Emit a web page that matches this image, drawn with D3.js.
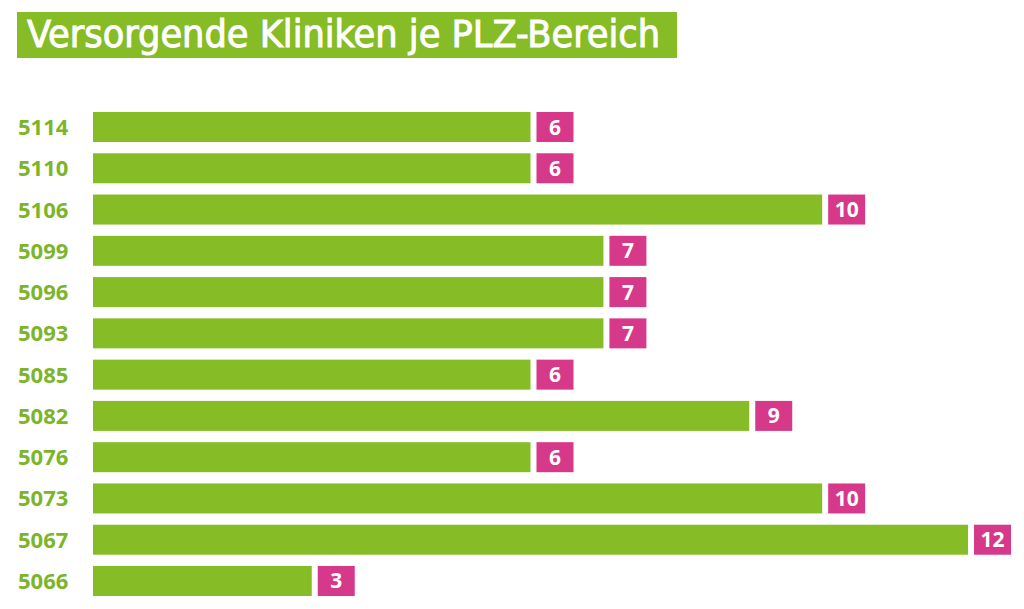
<!DOCTYPE html>
<html><head><meta charset="utf-8">
<script src="https://cdn.jsdelivr.net/npm/d3@7/dist/d3.min.js"></script>
<style>html,body{margin:0;padding:0;background:#fff;}svg{display:block;}</style>
</head><body>
<script>
const title = "Versorgende Kliniken je PLZ-Bereich";
const categories = ["5114","5110","5106","5099","5096","5093","5085","5082","5076","5073","5067","5066"];
const values = [6,6,10,7,7,7,6,9,6,10,12,3];

const W = 1024, H = 609;
const green = "#86BC25", magenta = "#D6398A", labelGreen = "#7DB52A";
const svg = d3.select("body").append("svg").attr("width", W).attr("height", H);

// title
svg.append("rect").attr("x",17).attr("y",12).attr("width",660).attr("height",46).attr("fill",green);
svg.append("text").attr("x",27).attr("y",47)
  .attr("font-family","'DejaVu Sans Condensed','Liberation Sans Narrow',sans-serif")
  .attr("font-size",37).attr("fill","#fff")
  .attr("stroke","#fff").attr("stroke-width",0.9)
  .attr("textLength",633).attr("lengthAdjust","spacingAndGlyphs")
  .text(title);

const x = d3.scaleLinear().domain([0,12]).range([93,968]);
const y = d3.scaleBand().domain(categories).range([112,596]).paddingInner(0.273).paddingOuter(0);

const data = categories.map((c,i)=>({c, v: values[i]}));

const g = svg.append("g");
g.selectAll("rect.bar").data(data).join("rect").attr("class","bar")
  .attr("x", x(0)).attr("y", d=>y(d.c))
  .attr("width", d=>x(d.v)-x(0)).attr("height", y.bandwidth())
  .attr("fill", green);

g.selectAll("rect.box").data(data).join("rect").attr("class","box")
  .attr("x", d=>x(d.v)+6).attr("y", d=>y(d.c))
  .attr("width", 37).attr("height", y.bandwidth())
  .attr("fill", magenta);

g.selectAll("text.val").data(data).join("text").attr("class","val")
  .attr("x", d=>x(d.v)+6+18.5).attr("y", d=>y(d.c)+y.bandwidth()/2+7.5)
  .attr("text-anchor","middle")
  .attr("font-family","'Open Sans',sans-serif").attr("font-weight",700)
  .attr("font-size",21).attr("fill","#fff")
  .text(d=>d.v);

// category axis labels
const axis = d3.axisLeft(y).tickSize(0).tickPadding(0);
const ag = svg.append("g").attr("transform","translate(18,0)").call(axis);
ag.select(".domain").remove();
ag.selectAll("text").attr("text-anchor","start").attr("dy",null)
  .attr("y", 8)
  .attr("font-family","'Open Sans',sans-serif").attr("font-weight",700)
  .attr("font-size",22).attr("fill",labelGreen);
</script>
</body></html>
